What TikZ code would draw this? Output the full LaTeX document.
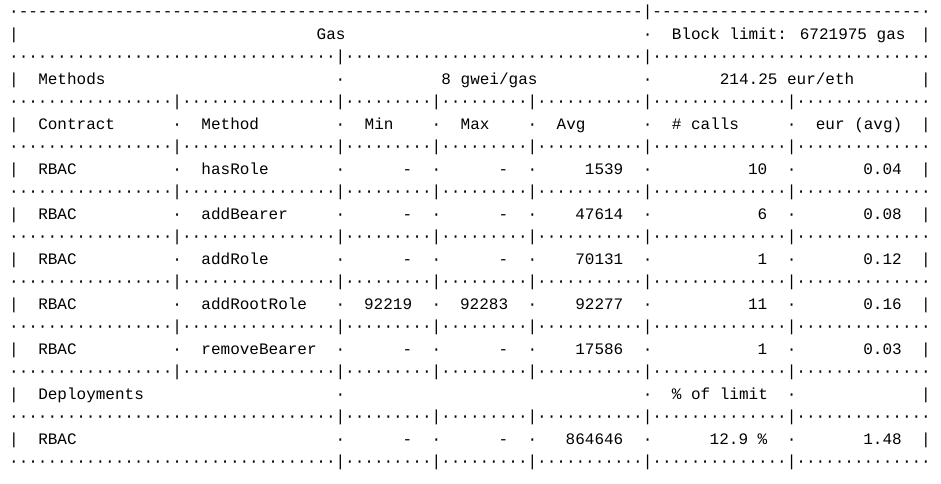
\documentclass[tikz,border=0pt]{standalone}
\usepackage{fontspec}
\newfontfamily\tabfont{Liberation Mono}
\usetikzlibrary{positioning}

% one column = 7.2pt, one text line = 16.875pt
\tikzset{
  chr/.style={anchor=base,inner sep=0pt,font={\tabfont\fontsize{12pt}{14pt}\selectfont}},
  txt/.style={chr,anchor=base west},
  num/.style={chr,anchor=base east}
}

% separator line: #1 line, #2 columns with a pipe, #3 filler
\newcommand{\sepline}[3]{%
  \node[chr] at (0,#1) {·};
  \node[chr] at (95,#1) {·};
  \foreach \b [remember=\b as \a (initially 0)] in {#2,95}{
    \pgfmathtruncatemacro\from{\a+1}
    \pgfmathtruncatemacro\to{\b-1}
    \foreach \c in {\from,...,\to} \node[chr] at (\c,#1) {#3};
    \ifnum\b<95 \node[chr] at (\b,#1) {|};\fi
  }%
}
% cell line: #1 line, #2 columns with a middle dot
\newcommand{\cellline}[2]{%
  \node[chr] at (0,#1) {|};
  \node[chr] at (95,#1) {|};
  \foreach \b in {#2} \node[chr] at (\b,#1) {·};
}

\begin{document}
\begin{tikzpicture}[x=7.2pt,y=-16.875pt]
\useasboundingbox[fill=white] (-1.4583,-0.7467) rectangle (96.5625,20.72);

%rahmen
\sepline{0}{66}{-}
\sepline{2}{34,66}{·}
\foreach \k in {4,6,...,16} {\sepline{\k}{17,34,44,54,66,81}{·}}
\sepline{18}{34,44,54,66,81}{·}
\sepline{20}{34,44,54,66,81}{·}

\cellline{1}{66}
\cellline{3}{34,66}
\foreach \k in {5,7,...,15} {\cellline{\k}{17,34,44,54,66,81}}
\cellline{17}{34,66,81}
\cellline{19}{34,44,54,66,81}

%kopf
\node[txt] (gas) at (31.5,1) {Gas};
\node[txt] (limit) at (68.5,1) {Block limit: 6721975 gas};
\node[txt] (methods) at (2.5,3) {Methods};
\node[txt] (gwei) at (44.5,3) {8 gwei/gas};
\node[txt] (eth) at (73.5,3) {214.25 eur/eth};

\node[txt] (contract) at (2.5,5) {Contract};
\node[txt] (method) at (19.5,5) {Method};
\node[txt] (min) at (36.5,5) {Min};
\node[txt] (max) at (46.5,5) {Max};
\node[txt] (avg) at (56.5,5) {Avg};
\node[txt] (calls) at (68.5,5) {\# calls};
\node[txt] (eur) at (83.5,5) {eur (avg)};

%methoden
\foreach \m/\lo/\hi/\av/\n/\e [count=\i] in {
  hasRole/-/-/1539/10/0.04,
  addBearer/-/-/47614/6/0.08,
  addRole/-/-/70131/1/0.12,
  addRootRole/92219/92283/92277/11/0.16,
  removeBearer/-/-/17586/1/0.03}
{
  \pgfmathtruncatemacro\k{5+2*\i}
  \node[txt] (c\i) at (2.5,\k) {RBAC};
  \node[txt] (m\i) at (19.5,\k) {\m};
  \node[num] (lo\i) at (41.5,\k) {\lo};
  \node[num] (hi\i) at (51.5,\k) {\hi};
  \node[num] (av\i) at (63.5,\k) {\av};
  \node[num] (n\i) at (78.5,\k) {\n};
  \node[num] (e\i) at (92.5,\k) {\e};
}

%deployments
\node[txt] (deploy) at (2.5,17) {Deployments};
\node[txt] (pct) at (68.5,17) {\% of limit};
\node[txt] (dc) at (2.5,19) {RBAC};
\node[num] (dlo) at (41.5,19) {-};
\node[num] (dhi) at (51.5,19) {-};
\node[num] (dav) at (63.5,19) {864646};
\node[num] (dpct) at (78.5,19) {12.9 \%};
\node[num] (deur) at (92.5,19) {1.48};
\end{tikzpicture}
\end{document}
